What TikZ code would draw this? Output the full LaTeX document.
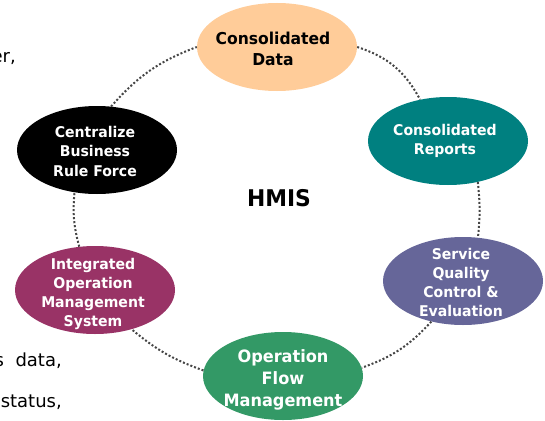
\documentclass[tikz,border=0pt]{standalone}
\usepackage{fontspec}
\setmainfont{DejaVu Sans}[BoldFont={DejaVu Sans Bold},BoldFeatures={FakeStretch=0.95}]
\usetikzlibrary{shapes.geometric}
\definecolor{cData}{RGB}{255,204,153}
\definecolor{cReports}{RGB}{0,128,128}
\definecolor{cService}{RGB}{102,102,153}
\definecolor{cFlow}{RGB}{51,153,102}
\definecolor{cIntegrated}{RGB}{153,51,102}
\definecolor{cDots}{RGB}{70,70,70}
\tikzset{
  x=1pt,y=-1pt,
  bubble/.style={ellipse,inner sep=0pt,minimum width=160pt,minimum height=88pt},
  caption/.style={inner sep=0pt,align=center,text=white,font=\fontsize{14.8}{19.5}\selectfont\bfseries},
  link/.style={draw=cDots,line width=2pt,dash pattern=on 2pt off 2pt},
  scrap/.style={inner sep=0pt,text=black,font=\fontsize{18}{20}\selectfont}
}
\begin{document}
\begin{tikzpicture}
\useasboundingbox (0,0) rectangle (545,420);
\begin{scope}
\clip (0,0) rectangle (545,420);
\node[scrap,anchor=base east] (s1) at (16,62) {er,};
\node[scrap,anchor=base east] (s2) at (62,366) {s\ \ data,};
\node[scrap,anchor=base east] (s3) at (62,407) {status,};
\node[bubble,fill=cData] (data) at (277,47) {};
\node[bubble,fill=cReports] (reports) at (448,141) {};
\node[bubble,fill=cService] (service) at (463,281) {};
\node[bubble,fill=cFlow] (flow) at (283,376) {};
\node[bubble,fill=cIntegrated] (integrated) at (95,290) {};
\node[bubble,fill=black] (central) at (97,150) {};
\node[caption,text=black,font=\fontsize{16.4}{21}\selectfont\bfseries] (dataT) at (273,49) {Consolidated\\Data};
\node[caption] (reportsT) at (445,141) {Consolidated\\Reports};
\node[caption,font=\fontsize{14.8}{18.7}\selectfont\bfseries] (serviceT) at (461,282.5) {Service\\Quality\\Control \&\\Evaluation};
\node[caption,font=\fontsize{17}{22}\selectfont\bfseries] (flowT) at (283,380) {Operation\\Flow\\Management};
\node[caption,font=\fontsize{14.8}{18.7}\selectfont\bfseries] (integratedT) at (93,294) {Integrated\\Operation\\Management\\System};
\node[caption] (centralT) at (95,151) {Centralize\\Business\\Rule Force};
\node[inner sep=0pt,font=\fontsize{23}{26}\selectfont\bfseries] (hmis) at (279,198) {HMIS};
\draw[link] (data.0) to[bend left=22] (reports.124);
\draw[link] (reports.-54) to[bend left=6] (service.71);
\draw[link] (service.232) to[bend left=14] (flow.6);
\draw[link] (flow.176) to[bend left=10] (integrated.-47);
\draw[link] (integrated.110) to[bend left=10] (central.-118);
\draw[link] (central.72) to[bend left=14] (data.180);
\end{scope}
\end{tikzpicture}
\end{document}
